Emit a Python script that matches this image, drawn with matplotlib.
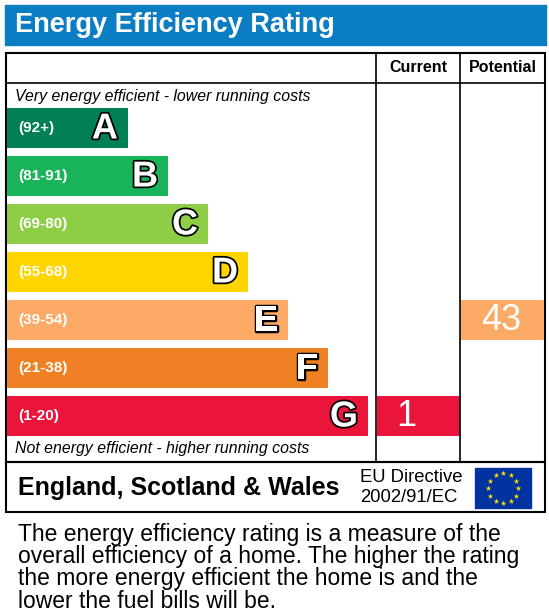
import matplotlib
matplotlib.use("Agg")
import matplotlib.pyplot as plt
import matplotlib.patheffects as pe
import numpy as np

letters = ["A", "B", "C", "D", "E", "F", "G"]
ranges = ["(92+)", "(81-91)", "(69-80)", "(55-68)", "(39-54)", "(21-38)", "(1-20)"]
colors = ["#008054", "#19b459", "#8dce46", "#ffd500", "#fcaa65", "#ef8023", "#e9153b"]
current_value = 1
potential_value = 43
current_band = "G"
potential_band = "E"

plt.rcParams['font.family'] = ['Liberation Sans', 'DejaVu Sans']
fig = plt.figure(figsize=(5.49, 6.13), dpi=100)
ax = fig.add_axes([0, 0, 1, 1])
ax.set_xlim(0, 549); ax.set_ylim(613, 0); ax.axis('off')

# title banner
ax.add_patch(plt.Rectangle((5, 5), 541, 40, color="#0b7dc2"))
ax.text(15, 25, "Energy Efficiency Rating", color="white", fontsize=19.5, fontweight="bold", va="center")

# main frame
ax.add_patch(plt.Rectangle((6, 53), 539, 409, fill=False, lw=1.5, ec="black"))
ax.add_patch(plt.Rectangle((6, 462), 539, 50, fill=False, lw=1.5, ec="black"))
ax.plot([6, 545], [83, 83], color="black", lw=1.2)
for x in (376, 460):
    ax.plot([x, x], [53, 462], color="black", lw=1.2)
ax.text(418, 68, "Current", fontsize=11.5, fontweight="bold", ha="center", va="center")
ax.text(503, 68, "Potential", fontsize=11.5, fontweight="bold", ha="center", va="center")
ax.text(15, 96, "Very energy efficient - lower running costs", fontsize=11.4, style="italic", va="center")
ax.text(15, 449, "Not energy efficient - higher running costs", fontsize=11.4, style="italic", va="center")

idx = np.arange(len(letters))
tops = 108 + 48 * idx
ends = 128 + 40 * idx
centers = tops + 20
ax.barh(centers, ends - 7, left=7, height=40, color=colors)
outline = [pe.withStroke(linewidth=2.5, foreground="black")]
for i in idx:
    ax.text(18, centers[i], ranges[i], color="white", fontsize=11, fontweight="bold", va="center")
    ax.text(ends[i] - 10, centers[i] + 1, letters[i], color="white", fontsize=26, fontweight="bold",
            ha="right", va="center", path_effects=outline)

ci = letters.index(current_band)
pi = letters.index(potential_band)
ax.barh(centers[ci], 83, left=377, height=40, color=colors[ci])
ax.text(406, centers[ci], str(current_value), color="white", fontsize=26, ha="center", va="center")
ax.barh(centers[pi], 83, left=461, height=40, color=colors[pi])
ax.text(501, centers[pi], str(potential_value), color="white", fontsize=26, ha="center", va="center")

# footer
ax.text(18, 488, "England, Scotland & Wales", fontsize=18, fontweight="bold", va="center")
ax.text(360, 478, "EU Directive", fontsize=13.3, va="center")
ax.text(360, 498, "2002/91/EC", fontsize=13.3, va="center")
ax.add_patch(plt.Rectangle((475, 468), 56, 40, color="#0033a0"))
ang = np.linspace(0, 2 * np.pi, 13)[:-1]
ax.scatter(503 + 15 * np.cos(ang), 488 + 15 * np.sin(ang), marker="*", s=18, color="#ffdd00", lw=0)

lines = ["The energy efficiency rating is a measure of the",
         "overall efficiency of a home. The higher the rating",
         "the more energy efficient the home is and the",
         "lower the fuel bills will be."]
for k, l in enumerate(lines):
    ax.text(18, 535 + 22 * k, l, fontsize=16.5, va="center")

fig.savefig("out.png", dpi=100)
